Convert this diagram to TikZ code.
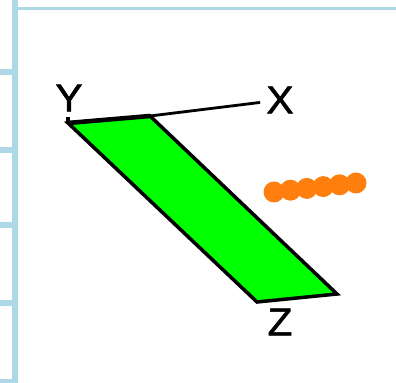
\documentclass[tikz,border=0pt]{standalone}
\usepackage{fontspec}
\setmainfont[FakeBold=1.6,FakeStretch=1.05]{Liberation Sans}
\usepackage{xcolor}
\definecolor{framebl}{HTML}{ADD8E6}
\definecolor{planegr}{HTML}{00FF00}
\definecolor{dotor}{HTML}{FF7F0E}
\usetikzlibrary{positioning, calc}
\tikzset{
  axislabel/.style={font=\fontsize{22}{22}\selectfont, inner sep=0.12cm},
  dotnode/.style={circle, fill=dotor, minimum size=0.42cm, inner sep=0pt}
}
\begin{document}
\begin{tikzpicture}[scale=1.0]
\useasboundingbox (0,0) rectangle (7.92,7.66);
% frame
\fill[framebl] (0.24,0) rectangle (0.35,7.66);
\fill[framebl] (0.35,7.46) rectangle (7.92,7.52);
\foreach \yy in {6.22,4.66,3.16,1.6} {
  \fill[framebl] (0,\yy-0.06) rectangle (0.24,\yy+0.06);
}
\fill[framebl] (0,0) rectangle (0.35,0.07);
% plane and axes
\coordinate (origin) at (1.36,5.2);
\coordinate (xedge) at (3.0,5.34);
\coordinate (zfar) at (6.74,1.78);
\coordinate (zedge) at (5.14,1.62);
\node[axislabel] (xlabel) at (5.6,5.66) {X};
\node[axislabel] (ylabel) at (1.38,5.7) {Y};
\node[axislabel] (zlabel) at (5.6,1.22) {Z};
\draw[line width=2pt, fill=planegr] (origin) -- (xedge) -- (zfar) -- (zedge) -- cycle;
\draw[line width=2.6pt] (origin) -- (xedge);
\draw[line width=1.6pt] (xedge) -- (xlabel);
\draw[line width=2pt] (origin) -- ++(0,0.12);
% orange points
\foreach \i in {0,...,5} {
  \node[dotnode] (dot\i) at (5.48+\i*0.328,3.82+\i*0.036) {};
}
\end{tikzpicture}
\end{document}
